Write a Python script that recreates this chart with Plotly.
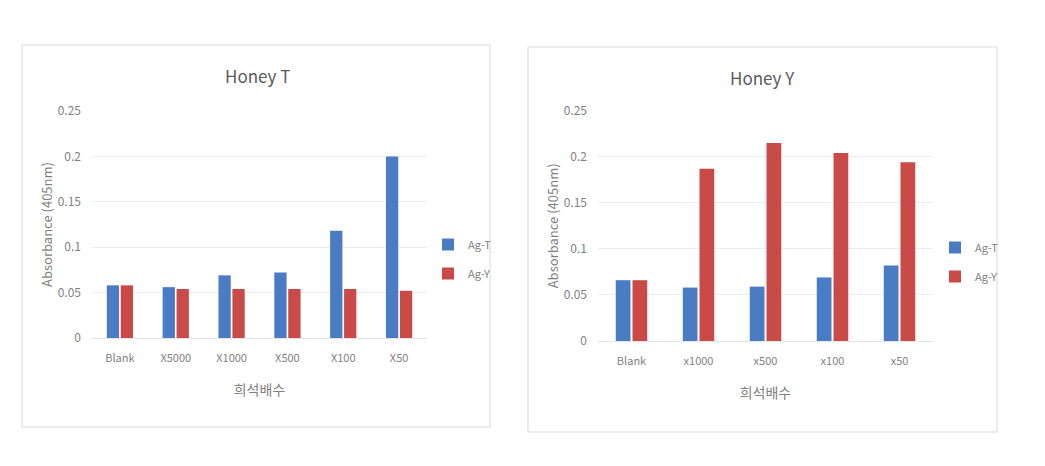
import plotly.graph_objects as go

# Data
cats_t = ["Blank", "X5000", "X1000", "X500", "X100", "X50"]
t_agT = [0.058, 0.056, 0.069, 0.072, 0.118, 0.200]
t_agY = [0.058, 0.054, 0.054, 0.054, 0.054, 0.052]

cats_y = ["Blank", "x1000", "x500", "x100", "x50"]
y_agT = [0.066, 0.058, 0.059, 0.069, 0.082]
y_agY = [0.066, 0.187, 0.215, 0.204, 0.194]

series_names = ["Ag-T", "Ag-Y"]
titles = ["Honey T", "Honey Y"]
ytick_vals = [0, 0.05, 0.1, 0.15, 0.2, 0.25]
ytick_text = ["0", "0.05", "0.1", "0.15", "0.2", "0.25"]

BLUE = "#4A7CC4"
RED = "#C94A47"
TXT = "#595959"
TICK = "#7F7F7F"
FONT = "Noto Sans CJK KR, Noto Sans, sans-serif"

W, H = 1045, 466
def px(x):
    return x / W
def py(y):
    return 1 - y / H

fig = go.Figure()

fig.add_trace(go.Bar(x=cats_t, y=t_agT, name=series_names[0], marker_color=BLUE,
                     xaxis="x", yaxis="y", legend="legend", legendgroup="t1"))
fig.add_trace(go.Bar(x=cats_t, y=t_agY, name=series_names[1], marker_color=RED,
                     xaxis="x", yaxis="y", legend="legend", legendgroup="t2"))
fig.add_trace(go.Bar(x=cats_y, y=y_agT, name=series_names[0], marker_color=BLUE,
                     xaxis="x2", yaxis="y2", legend="legend2", legendgroup="y1"))
fig.add_trace(go.Bar(x=cats_y, y=y_agY, name=series_names[1], marker_color=RED,
                     xaxis="x2", yaxis="y2", legend="legend2", legendgroup="y2"))

axis_common_y = dict(range=[0, 0.25], tickvals=ytick_vals, ticktext=ytick_text,
                     showgrid=True, gridcolor="#EDEDED", gridwidth=1,
                     zeroline=False, showline=False, ticks="", automargin=False,
                     ticklabelstandoff=10,
                     tickfont=dict(size=12, color=TICK, family=FONT),
                     title=dict(text="Absorbance (405nm)", font=dict(size=13, color=TICK, family=FONT),
                                standoff=2))
axis_common_x = dict(showgrid=False, zeroline=False, showline=True, linecolor="#E6E6E6",
                     ticks="", automargin=False, ticklabelstandoff=10,
                     tickfont=dict(size=11, color=TICK, family=FONT),
                     title=dict(text="희석배수", font=dict(size=14, color=TICK, family=FONT), standoff=20))

legend_common = dict(xanchor="left", yanchor="top",
                     font=dict(size=11, color=TICK, family=FONT), itemwidth=30,
                     tracegroupgap=10, bgcolor="rgba(0,0,0,0)")

fig.update_layout(
    template="none",
    width=W, height=H,
    margin=dict(l=0, r=0, t=0, b=0, pad=0),
    paper_bgcolor="white", plot_bgcolor="white",
    barmode="group", bargap=0.5, bargroupgap=0.12,
    font=dict(family=FONT, color=TXT),
    xaxis=dict(domain=[px(92), px(427)], anchor="y", **axis_common_x),
    yaxis=dict(domain=[py(338), py(111)], anchor="x", **axis_common_y),
    xaxis2=dict(domain=[px(598), px(933)], anchor="y2", **axis_common_x),
    yaxis2=dict(domain=[py(341), py(110.7)], anchor="x2", **axis_common_y),
    legend=dict(x=px(428), y=py(230), **legend_common),
    legend2=dict(x=px(935), y=py(233), **legend_common),
    showlegend=True,
)

# Panel borders
fig.add_shape(type="rect", xref="paper", yref="paper",
              x0=px(22), x1=px(490), y0=py(427), y1=py(45),
              line=dict(color="#D9D9D9", width=1), layer="below")
fig.add_shape(type="rect", xref="paper", yref="paper",
              x0=px(528), x1=px(997), y0=py(432), y1=py(47),
              line=dict(color="#D9D9D9", width=1), layer="below")

# Titles
fig.add_annotation(text=titles[0], xref="paper", yref="paper", x=px(257), y=py(76),
                   xanchor="center", yanchor="middle",
                   showarrow=False, font=dict(size=17, color=TXT, family=FONT))
fig.add_annotation(text=titles[1], xref="paper", yref="paper", x=px(762), y=py(77),
                   xanchor="center", yanchor="middle",
                   showarrow=False, font=dict(size=17, color=TXT, family=FONT))

fig.write_html("out.html")
